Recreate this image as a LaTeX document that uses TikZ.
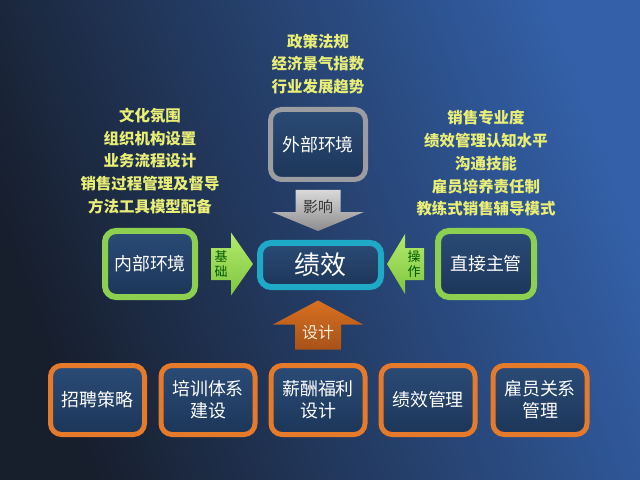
\documentclass[tikz,border=0pt]{standalone}
\usepackage{fontspec}
\setmainfont{Noto Sans CJK SC}
\usetikzlibrary{calc}
\definecolor{bgdark}{HTML}{171E2C}
\definecolor{bgmid}{HTML}{1E2E4C}
\definecolor{bgblue}{HTML}{3360A8}
\definecolor{boxtop}{HTML}{2A4B76}
\definecolor{boxbot}{HTML}{1D3659}
\definecolor{noteyel}{HTML}{E9EE76}
\definecolor{extgray}{HTML}{9C9DA0}
\definecolor{ingreen}{HTML}{8DCF4E}
\definecolor{perfcyan}{HTML}{1EA9C6}
\definecolor{hrorange}{HTML}{E57A2A}
\definecolor{limelt}{HTML}{B4EA6C}
\definecolor{limedk}{HTML}{7EC63E}
\definecolor{rustlt}{HTML}{D8701F}
\definecolor{rustdk}{HTML}{A8521A}
\tikzset{box/.style={rounded corners=11bp,line width=5bp,top color=boxtop,bottom color=boxbot,text=white,
  font=\fontsize{18}{22}\selectfont,align=center,inner sep=0pt},
 hrbox/.style={box,draw=hrorange,minimum width=94bp,minimum height=69bp},
 greenbox/.style={box,draw=ingreen,line width=6bp,minimum height=66bp},
 notes/.style={text=noteyel,font=\bfseries\fontsize{15.5}{22.8}\selectfont,align=center},
 blktext/.style={align=center,inner sep=0pt}}
\newcommand{\blkarrow}[7]{% style, tail, angle, length, half body, half head, head length
 \begin{scope}[shift={(#2)},rotate=#3]
  \shade[#1] (0,-#5) -- (#4-#7,-#5) -- (#4-#7,-#6) -- (#4,0) -- (#4-#7,#6) -- (#4-#7,#5) -- (0,#5) -- cycle;
 \end{scope}}

\begin{document}
\begin{tikzpicture}[x=1bp,y=-1bp]
 \shade[left color=bgdark,middle color=bgmid,right color=bgblue,shading angle=110] (0,0) rectangle (640,480);
 \useasboundingbox (0,0) rectangle (640,480);
 % boxes
 \node[box,draw=extgray,minimum width=95bp,minimum height=70bp] (ext) at (318,144.5) {外部环境};
 \node[greenbox,minimum width=90bp] (inner) at (150,264) {内部环境};
 \node[greenbox,minimum width=96bp] (boss) at (486,264) {直接主管};
 \node[box,draw=perfcyan,line width=6bp,minimum width=121bp,minimum height=44bp,
  font=\fontsize{26}{30}\selectfont] (perf) at (320.5,265) {绩效};
 \node[hrbox] (hire) at (97.5,400) {招聘策略};
 \node[hrbox] (train) at (208,400) {培训体系\\建设};
 \node[hrbox] (pay) at (318,400) {薪酬福利\\设计};
 \node[hrbox] (perfm) at (428,400) {绩效管理};
 \node[hrbox] (rel) at (540,400) {雇员关系\\管理};
 % notes
 \node[notes] (extnote) at (318,64) {政策法规\\经济景气指数\\行业发展趋势};
 \node[notes] (innote) at (150,161) {文化氛围\\组织机构设置\\业务流程设计\\销售过程管理及督导\\方法工具模型配备};
 \node[notes] (bossnote) at (486,163.5) {销售专业度\\绩效管理认知水平\\沟通技能\\雇员培养责任制\\教练式销售辅导模式};
 % block arrows
 \coordinate (infltail) at ($(ext.south)+(0,8)$);
 \coordinate (basetail) at ($(inner.east)+(13,0)$);
 \coordinate (opertail) at ($(boss.west)+(-11,0)$);
 \coordinate (dsgntail) at ($(pay.north)+(0,-13.5)$);
 \blkarrow{top color=gray!30,bottom color=gray!90}{infltail}{270}{41}{22.5}{46}{19}
 \blkarrow{top color=limelt,bottom color=limedk}{basetail}{0}{42}{16}{31.5}{22}
 \blkarrow{top color=limelt,bottom color=limedk}{opertail}{180}{37}{16}{30}{18}
 \blkarrow{top color=rustlt,bottom color=rustdk}{dsgntail}{90}{49}{23}{45}{24}
 \node[blktext,font=\fontsize{15}{17}\selectfont,text=black!80] (infltxt) at ($(infltail)+(0,17)$) {影响};
 \node[blktext,font=\fontsize{13}{15}\selectfont,text=black!65!green] (basetxt) at ($(basetail)+(10,0)$) {基\\础};
 \node[blktext,font=\fontsize{13}{15}\selectfont,text=black!65!green] (opertxt) at ($(opertail)+(-10,0)$) {操\\作};
 \node[blktext,font=\fontsize{16}{18}\selectfont,text=orange!15] (dsgntxt) at ($(dsgntail)+(0,-17)$) {设计};
\end{tikzpicture}
\end{document}
